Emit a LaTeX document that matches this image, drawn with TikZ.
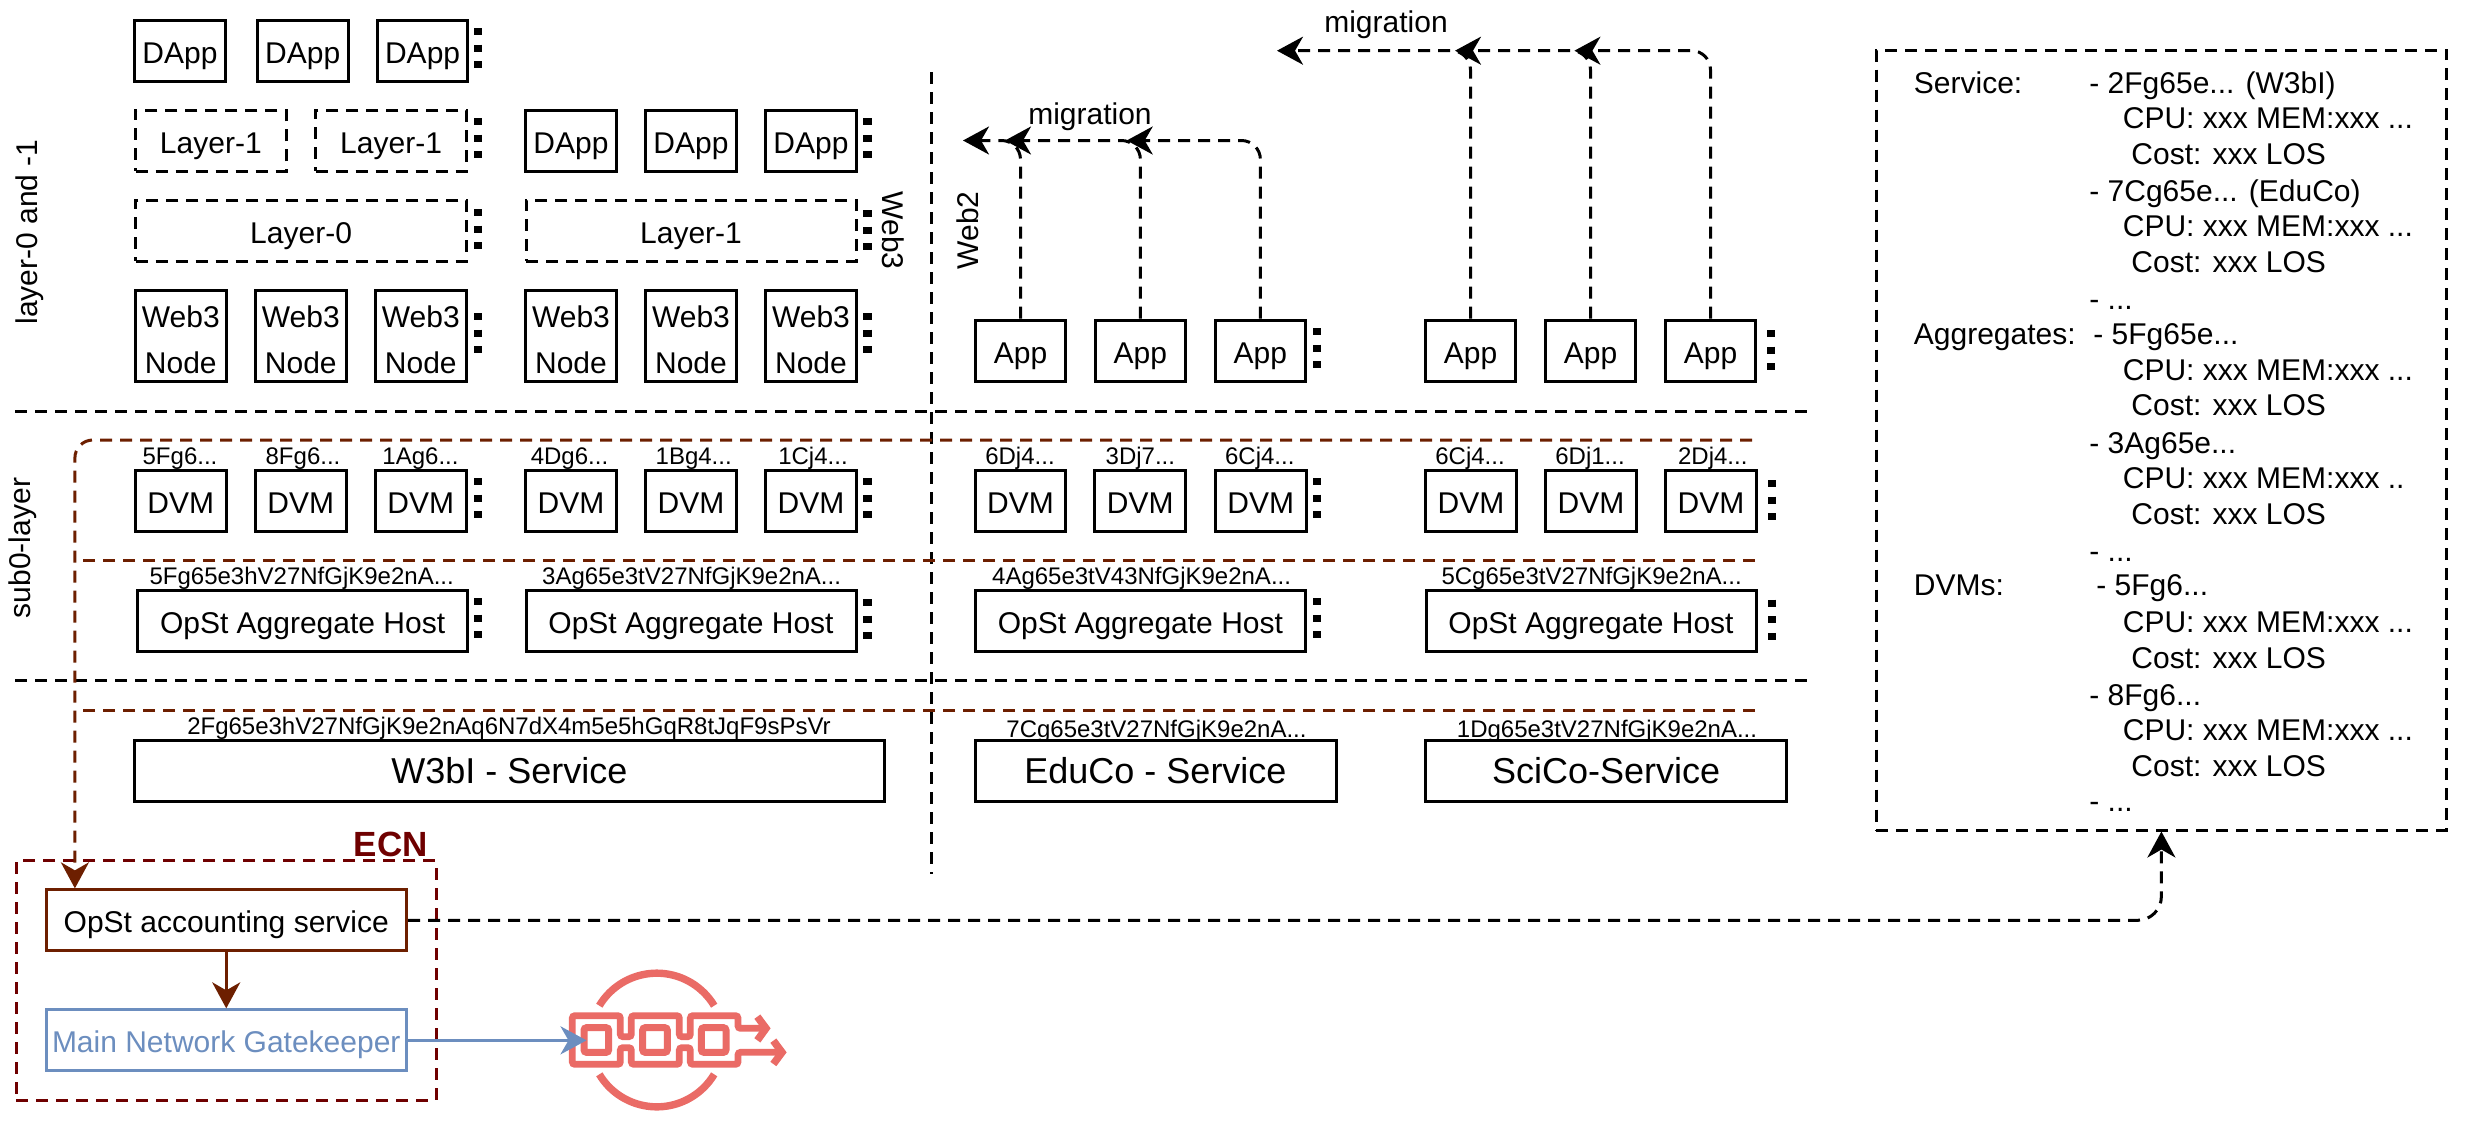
\documentclass[tikz,border=0pt]{standalone}
\usepackage{fontspec}
\setmainfont{Liberation Sans}
\usetikzlibrary{arrows.meta}
\definecolor{brn}{HTML}{6D1F00}
\definecolor{ecn}{HTML}{6F0000}
\definecolor{blu}{HTML}{6C8EBF}
\definecolor{lgo}{HTML}{EA6B66}
\newcommand\ddd{.{}.{}.}
\tikzset{
  dsh/.style={dash pattern=on 6pt off 4pt},
  lw/.style={line width=1.5pt},
  tf/.style={font=\fontsize{15pt}{18pt}\selectfont,text height=10.74pt,text depth=0pt,inner sep=0pt},
  tb/.style={font=\fontsize{15pt}{18pt}\selectfont,text height=12.6pt,text depth=0pt,inner sep=0pt},
  tl/.style={font=\fontsize{18pt}{22pt}\selectfont,text height=12.9pt,text depth=0pt,inner sep=0pt},
  lab/.style={font=\fontsize{12pt}{14pt}\selectfont,text height=8.6pt,text depth=0pt,inner sep=0pt},
  sbox/.style={draw,lw,tb,minimum width=45.25pt,minimum height=30.5pt},
  dbox/.style={draw,lw,dsh,tb,minimum height=30.5pt},
  wbox/.style={draw,lw,minimum width=45.25pt,minimum height=45.5pt,inner sep=0pt,align=center,
    text height=37.5pt,text depth=0pt,font=\fontsize{15pt}{22.6pt}\selectfont},
  hbox/.style={draw,lw,tb,minimum width=165pt,minimum height=30.5pt},
  svc/.style={draw,lw,tl,minimum height=30.5pt},
  rtext/.style={tf,anchor=west},
  tip/.style={-{Stealth[length=13pt,width=14pt,inset=4pt]}},
  mig/.style={lw,dsh,tip,rounded corners=9.5pt},
  dotbar/.style={line width=4.2pt,dash pattern=on 3.5pt off 4.85pt},
  brline/.style={color=brn,lw,dsh},
  sep/.style={lw,dsh},
  lgoline/.style={color=lgo,line width=3.4pt,rounded corners=1.3pt}
}
\newcommand\threedots[2]{\draw[dotbar] (#1,#2) -- (#1,#2+40.4);}
\begin{document}
\begin{tikzpicture}[x=0.5pt,y=-0.5pt]
\useasboundingbox (0,0) rectangle (2465,1125);
\fill[white] (0,0) rectangle (2465,1125);

% separators
\coordinate (s1a) at (15,411); \coordinate (s1b) at (1808,411);
\coordinate (s2a) at (15,680); \coordinate (s2b) at (1808,680);
\coordinate (s3a) at (931.5,72); \coordinate (s3b) at (931.5,874);
\draw[sep] (s1a) -- (s1b);
\draw[sep] (s2a) -- (s2b);
\draw[sep] (s3a) -- (s3b);

% side labels
\node[tf,rotate=90] (llayer) at (26.5,232) {layer-0 and -1};
\node[tf,rotate=90] (lsub) at (20,548) {sub0-layer};
\node[tf,rotate=-90] (lweb3) at (893,230.5) {Web3};
\node[tf,rotate=90] (lweb2) at (968,230.5) {Web2};

% web3 top rows
\node[sbox] (da1) at (180,50.5) {DApp};
\node[sbox] (da2) at (302.75,50.5) {DApp};
\node[sbox] (da3) at (422.6,50.5) {DApp};
\node[dbox,minimum width=75.15pt] (ly1) at (210.85,140.5) {Layer-1};
\node[dbox,minimum width=75.4pt] (ly2) at (391.1,140.5) {Layer-1};
\node[sbox] (da4) at (571,140.5) {DApp};
\node[sbox] (da5) at (691,140.5) {DApp};
\node[sbox] (da6) at (811,140.5) {DApp};
\node[dbox,minimum width=165.4pt] (ly0) at (301.1,230.5) {Layer-0};
\node[dbox,minimum width=165pt] (ly3) at (691,230.5) {Layer-1};
\foreach \x/\n in {180.8/w1,300.8/w2,420.8/w3,571/w4,691/w5,811/w6}
  \node[wbox] (\n) at (\x,335.5) {Web3\\Node};

% web2 apps
\foreach \x/\n in {1020.5/a1,1140.4/a2,1260.4/a3,1470.5/a4,1590.5/a5,1710.5/a6}
  \node[sbox] (\n) at (\x,350.5) {App};

% migration arrows
\coordinate (m1) at (963,140.5); \coordinate (m2) at (1005,140.5); \coordinate (m3) at (1126.7,140.5);
\coordinate (m4) at (1277,50.7); \coordinate (m5) at (1455,50.7); \coordinate (m6) at (1574.4,50.7);
\draw[mig] (a1.north) |- (m1);
\draw[mig] (a2.north) |- (m2);
\draw[mig] (a3.north) |- (m3);
\draw[mig] (a4.north) |- (m4);
\draw[mig] (a5.north) |- (m5);
\draw[mig] (a6.north) |- (m6);
\node[tf] (mt1) at (1090,114) {migration};
\node[tf] (mt2) at (1386,22) {migration};

% DVMs
\foreach \x/\n/\t/\lx in {180.8/v1/5Fg6\ddd/180,300.8/v2/8Fg6\ddd/303,420.8/v3/1Ag6\ddd/420.5,571/v4/4Dg6\ddd/569.5,691/v5/1Bg4\ddd/693.7,811/v6/1Cj4\ddd/813,1020.5/v7/6Dj4\ddd/1020,1140.2/v8/3Dj7\ddd/1140.4,1260.8/v9/6Cj4\ddd/1259.8,1471/v10/6Cj4\ddd/1470,1591/v11/6Dj1\ddd/1590,1711/v12/2Dj4\ddd/1712.8}{
  \node[sbox] (\n) at (\x,500.5) {DVM};
  \node[lab] (\n t) at (\lx,456) {\t};
}

% aggregate hosts
\foreach \x/\n/\t/\lx in {302.6/h1/5Fg65e3hV27NfGjK9e2nA\ddd/301.7,691/h2/3Ag65e3tV27NfGjK9e2nA\ddd/691.6,1140.4/h3/4Ag65e3tV43NfGjK9e2nA\ddd/1141.6,1591/h4/5Cg65e3tV27NfGjK9e2nA\ddd/1591.6}{
  \node[hbox] (\n) at (\x,620.5) {OpSt Aggregate Host};
  \node[lab] (\n t) at (\lx,576) {\t};
}

% services
\node[svc,minimum width=375pt] (sv1) at (509.5,770.5) {W3bI - Service};
\node[svc,minimum width=180.5pt] (sv2) at (1155.5,770.5) {EduCo - Service};
\node[svc,minimum width=180.5pt] (sv3) at (1606.2,770.5) {SciCo-Service};
\node[lab] (sv1t) at (509,726) {2Fg65e3hV27NfGjK9e2nAq6N7dX4m5e5hGqR8tJqF9sPsVr};
\node[lab] (sv2t) at (1156.5,729) {7Cg65e3tV27NfGjK9e2nA\ddd};
\node[lab] (sv3t) at (1607,729) {1Dg65e3tV27NfGjK9e2nA\ddd};

% ellipsis marks
\threedots{478}{28}
\threedots{478}{118}
\threedots{478}{209}
\threedots{478}{313}
\threedots{478}{478}
\threedots{478}{598}
\threedots{867.6}{118}
\threedots{867.6}{210}
\threedots{867.6}{313}
\threedots{867.6}{478}
\threedots{867.6}{599}
\threedots{1316.7}{328}
\threedots{1316.7}{478}
\threedots{1316.7}{598}
\threedots{1771}{330}
\threedots{1772}{480}
\threedots{1772}{599.5}

% ECN
\node[draw=ecn,lw,dsh,minimum width=209.85pt,minimum height=119.7pt] (ecnbox) at (226.15,980.5) {};
\node[font=\fontsize{17.5pt}{20pt}\selectfont\bfseries,text=ecn,text height=12.5pt,text depth=0pt,inner sep=0pt] (ecnt) at (390.8,844) {ECN};
\node[draw=brn,lw,tb,minimum width=180.25pt,minimum height=30.5pt] (acc) at (226.25,920.35) {OpSt accounting service};
\node[draw=blu,lw,tb,text=blu,minimum width=180.25pt,minimum height=30.5pt] (main) at (226.25,1040.35) {Main Network Gatekeeper};

% brown links
\coordinate (b1) at (1752,440);
\coordinate (b2a) at (1755,560.7); \coordinate (b2b) at (77,560.7);
\coordinate (b3a) at (1755,710); \coordinate (b3b) at (77,710);
\draw[brline,tip,rounded corners=9pt] (b1) -| ([xshift=15.2pt]acc.north west);
\draw[brline] (b2a) -- (b2b);
\draw[brline] (b3a) -- (b3b);
\draw[color=brn,lw,tip] (acc.south) -- (main.north);

% results box
\node[draw,lw,dsh,minimum width=285.1pt,minimum height=390pt] (res) at (2161.4,440) {};
\foreach \x/\y/\t [count=\i] in {
  1913.5/82.3/Service:, 2089/82.3/- 2Fg65e\ddd{} (W3bI), 2122.5/117.7/CPU: xxx MEM:xxx \ddd, 2131/153.3/Cost: xxx LOS,
  2089/191/- 7Cg65e\ddd{} (EduCo), 2122.5/226/CPU: xxx MEM:xxx \ddd, 2131/261.7/Cost: xxx LOS, 2089/299/- \ddd,
  1913.5/334/Aggregates:, 2093/334/- 5Fg65e\ddd, 2122.5/370/CPU: xxx MEM:xxx \ddd, 2131/405/Cost: xxx LOS,
  2089/443/- 3Ag65e\ddd, 2122.5/477.3/CPU: xxx MEM:xxx .., 2131/513.3/Cost: xxx LOS, 2089/551/- \ddd,
  1913.5/585/DVMs:, 2096/585/- 5Fg6\ddd, 2122.5/621.7/CPU: xxx MEM:xxx \ddd, 2131/657.3/Cost: xxx LOS,
  2089/695/- 8Fg6\ddd, 2122.5/730/CPU: xxx MEM:xxx \ddd, 2131/765.7/Cost: xxx LOS, 2089/801/- \ddd}
  \node[rtext] (r\i) at (\x,\y) {\t};
\draw[lw,dsh,tip,rounded corners=12pt] (acc.east) -| (res.south);

% logo
\begin{scope}[shift={(560,965)},x=0.16667pt,y=-0.16667pt]
  \draw[color=lgo,line width=3.7pt] (118,122) arc[start angle=211,end angle=329,radius=201];
  \draw[color=lgo,line width=3.7pt] (118,328) arc[start angle=149,end angle=31,radius=201];
  \draw[lgoline] (610,190) -- (534,190) -- (534,152) -- (391,152) -- (391,215) -- (358,215) -- (358,152)
    -- (214,152) -- (214,215) -- (181,215) -- (181,152) -- (37,152) -- (37,298) -- (181,298) -- (181,248)
    -- (214,248) -- (214,298) -- (358,298) -- (358,248) -- (391,248) -- (391,298) -- (534,298) -- (534,262) -- (660,262);
  \draw[color=lgo,line width=3.7pt] (592,155) -- (618,190) -- (592,226);
  \draw[color=lgo,line width=3.7pt] (640,227) -- (666,262) -- (640,297);
  \foreach \x/\n in {72/q1,248/q2,424/q3}
    \draw[color=lgo,line width=3.5pt,rounded corners=1.3pt] (\x,188) rectangle (\x+74,262);
\end{scope}
\coordinate (ltip) at (586.5,1040.35);
\draw[color=blu,lw,tip] (main.east) -- (ltip);
\end{tikzpicture}
\end{document}
